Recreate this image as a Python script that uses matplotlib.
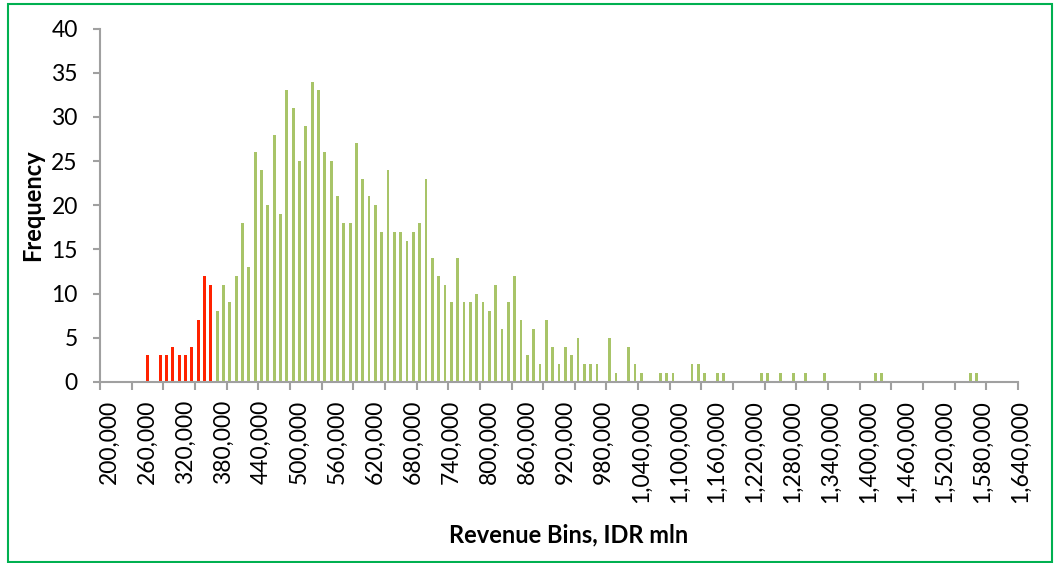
import numpy as np
import matplotlib.pyplot as plt
from matplotlib.patches import Rectangle
from matplotlib.transforms import ScaledTranslation

plt.rcParams['font.family'] = ['Lato', 'DejaVu Sans']

# Интервалы выручки (нижняя граница, шаг 10 000)
bins = np.arange(200000, 1640001, 10000)

# Частоты по интервалам
freq = [0, 0, 0, 0, 0, 0, 0, 3, 0, 3,
        3, 4, 3, 3, 4, 7, 12, 11, 8, 11,
        9, 12, 18, 13, 26, 24, 20, 28, 19, 33,
        31, 25, 29, 34, 33, 26, 25, 21, 18, 18,
        27, 23, 21, 20, 17, 24, 17, 17, 16, 17,
        18, 23, 14, 12, 11, 9, 14, 9, 9, 10,
        9, 8, 11, 6, 9, 12, 7, 3, 6, 2,
        7, 4, 2, 4, 3, 5, 2, 2, 2, 0,
        5, 1, 0, 4, 2, 1, 0, 0, 1, 1,
        1, 0, 0, 2, 2, 1, 0, 1, 1, 0,
        0, 0, 0, 0, 1, 1, 0, 1, 0, 1,
        0, 1, 0, 0, 1, 0, 0, 0, 0, 0,
        0, 0, 1, 1, 0, 0, 0, 0, 0, 0,
        0, 0, 0, 0, 0, 0, 0, 1, 1, 0,
        0, 0, 0, 0, 0]

# Интервалы ниже порога выделены красным
red_limit = 380000

colors = ['#ff2200' if b < red_limit else '#a8c468' for b in bins]
x = np.arange(len(bins))

fig = plt.figure(figsize=(10.6, 5.63), dpi=100)
ax = fig.add_axes([100 / 1060, 181 / 563, 918 / 1060, 353.5 / 563])

ax.bar(x, freq, width=0.45, color=colors)

ax.set_xlim(-0.5, len(bins) - 0.5)
ax.set_ylim(0, 40)
ax.set_yticks(range(0, 41, 5))

# Подписи каждые 6 интервалов, засечки каждые 5
ax.set_xticks(x[::6])
ax.set_xticklabels([f"{b:,}" for b in bins[::6]], rotation=90, fontsize=16.5)
ax.set_xticks(np.arange(-0.5, len(bins), 5), minor=True)
ax.tick_params(axis='x', which='major', length=0, pad=13)
ax.tick_params(axis='x', which='minor', length=6, width=1.5, color='#a0a0a0')
ax.tick_params(axis='y', length=5, width=1.5, color='#a0a0a0', labelsize=16.5, pad=11)

offset = ScaledTranslation(6 / 100, 0, fig.dpi_scale_trans)
for lbl in ax.get_xticklabels():
    lbl.set_transform(lbl.get_transform() + offset)

for s in ['top', 'right']:
    ax.spines[s].set_visible(False)
for s in ['left', 'bottom']:
    ax.spines[s].set_color('#a0a0a0')
    ax.spines[s].set_linewidth(1.5)

fig.text(33 / 1060, 1 - 205 / 563, "Frequency", rotation=90, ha='center', va='center',
         fontsize=17, fontweight='bold')
fig.text(569 / 1060, 1 - 535 / 563, "Revenue Bins, IDR mln", ha='center', va='center',
         fontsize=17, fontweight='bold')

fig.patches.append(Rectangle((8 / 1060, 1.5 / 563), 1044 / 1060, 558 / 563,
                             transform=fig.transFigure, fill=False,
                             edgecolor='#00b050', linewidth=1.5))

fig.savefig('out.png', dpi=100)
